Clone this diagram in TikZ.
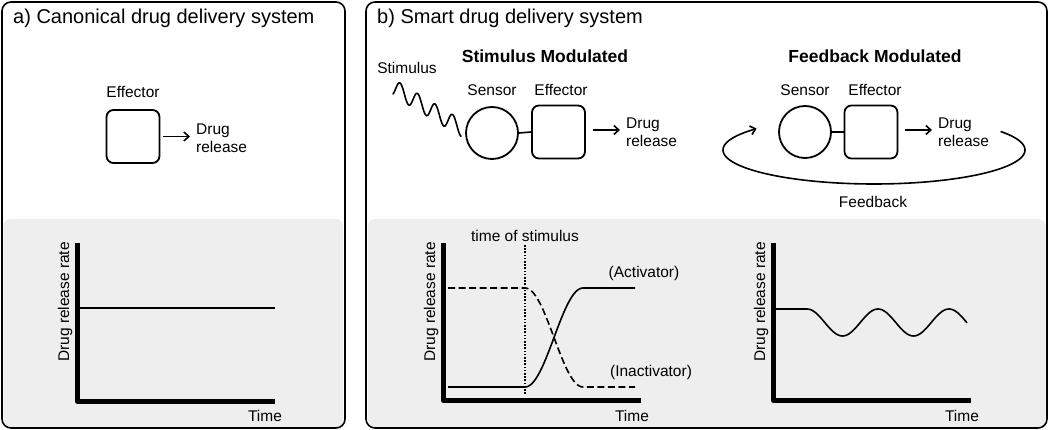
\documentclass[tikz,border=0pt]{standalone}
\usepackage{fontspec}
\setmainfont{Liberation Sans}
\usetikzlibrary{arrows.meta,positioning}
\definecolor{panelgray}{RGB}{238,238,238}
\tikzset{
  panel/.style={draw=black, line width=1.6pt, rounded corners=9pt},
  grayfill/.style={fill=panelgray, rounded corners=7pt},
  ttl/.style={font=\fontsize{20}{23}\selectfont, anchor=base west, inner sep=0pt},
  hdr/.style={font=\fontsize{17.5}{20}\selectfont\bfseries, inner sep=0pt},
  lbl/.style={font=\fontsize{15.5}{18}\selectfont, inner sep=0pt},
  rel/.style={font=\fontsize{15.5}{18.5}\selectfont, align=left, anchor=west, inner sep=0pt},
  effbox/.style={draw, line width=1.8pt, rounded corners=7pt, minimum width=53pt, minimum height=53pt, inner sep=0pt},
  sensc/.style={draw, circle, line width=1.8pt, minimum size=52pt, inner sep=0pt},
  arr/.style={line width=1.6pt, -{Straight Barb[length=5pt,width=9pt]}},
  link/.style={line width=1.6pt},
  axisline/.style={line width=5pt, line join=round},
  curve/.style={line width=1.6pt},
  dcurve/.style={line width=1.6pt, dash pattern=on 7pt off 3.5pt},
}
\begin{document}
\begin{tikzpicture}[x=1pt, y=-1pt]
\useasboundingbox (0,0) rectangle (1050,430);
% panels
\fill[grayfill] (3.5,219) rectangle (343,427);
\fill[grayfill] (368,219) rectangle (1045.5,427);
\draw[panel] (2,2) rectangle (345,428);
\draw[panel] (366,2) rectangle (1047,428);
\node[ttl] (ta) at (13,24) {a) Canonical drug delivery system};
\node[ttl] (tb) at (377,24) {b) Smart drug delivery system};

% ---- panel a diagram
\node[effbox] (ea) at (133,136.5) {};
\node[lbl, anchor=base] (eal) at (133,98) {Effector};
\coordinate (aa) at (190,136.5);
\draw[arr] ([xshift=3pt]ea.east) -- (aa);
\node[rel] (dra) at (196,138) {Drug\\release};

% ---- stimulus modulated
\node[hdr] (hs) at (545,56) {Stimulus Modulated};
\node[lbl] (stl) at (407,68) {Stimulus};
\draw[line width=1.6pt, line cap=round] plot[domain=393:461, samples=150, smooth] (\x, {91.4+0.6*(\x-400)-8.4*cos(20.571*(\x-400))});
\node[sensc] (s1) at (492,133) {};
\node[effbox] (e1) at (558.5,132) {};
\draw[link] (s1.east) -- (e1.west);
\node[lbl] (s1l) at (492,90) {Sensor};
\node[lbl] (e1l) at (561,90) {Effector};
\coordinate (a1) at (620,130);
\draw[arr] ([xshift=7pt]e1.east |- a1) -- (a1);
\node[rel] (dr1) at (626,132) {Drug\\release};

% ---- feedback modulated
\node[hdr] (hf) at (875,56) {Feedback Modulated};
\node[sensc] (s2) at (805,132) {};
\node[effbox] (e2) at (871,132) {};
\draw[link] (s2.east) -- (e2.west);
\node[lbl] (s2l) at (805,90) {Sensor};
\node[lbl] (e2l) at (875,90) {Effector};
\coordinate (a2) at (932,130);
\draw[arr] ([xshift=7pt]e2.east |- a2) -- (a2);
\node[rel] (dr2) at (938,132) {Drug\\release};
\draw[arr] plot[domain=-33:219, samples=90, smooth] ({874+151*cos(\x)}, {150+34*sin(\x)});
\node[lbl] (fbl) at (873,202) {Feedback};

% ---- graph a
\coordinate (ya) at (77,243);
\coordinate (xa) at (275,401);
\draw[axisline] (ya) |- (xa);
\node[lbl, rotate=90] (yla) at (65,302) {Drug release rate};
\node[lbl] (xla) at (265,416) {Time};
\draw[curve] (79,308) -- (275,308);

% ---- graph b (stimulus)
\coordinate (yb) at (443,243);
\coordinate (xb) at (641,400);
\draw[axisline] (yb) |- (xb);
\node[lbl, rotate=90] (ylb) at (431,302) {Drug release rate};
\node[lbl] (xlb) at (632,416) {Time};
\node[lbl] (tsl) at (525,236) {time of stimulus};
\draw[line width=1.6pt, dash pattern=on 1.6pt off 1.6pt] (525,245) -- (525,395);
\draw[curve] (448,387) -- (525,387) -- plot[domain=525:583, samples=40] (\x, {387-49.5*(1-cos(3.1034*(\x-525)))}) -- (635,288);
\draw[dcurve] (448,288) -- (525,288) -- plot[domain=525:583, samples=40] (\x, {288+49.5*(1-cos(3.1034*(\x-525)))}) -- (635,387);
\node[lbl] (act) at (644,273) {(Activator)};
\node[lbl] (inact) at (651,372) {(Inactivator)};

% ---- graph c (feedback)
\coordinate (yc) at (773,243);
\coordinate (xc) at (971,400);
\draw[axisline] (yc) |- (xc);
\node[lbl, rotate=90] (ylc) at (761,302) {Drug release rate};
\node[lbl] (xlc) at (962,416) {Time};
\draw[curve] (775,309) -- (807,309) -- plot[domain=807:967, samples=100] (\x, {322.5-13.5*cos(5.07042*(\x-807))});
\end{tikzpicture}
\end{document}
